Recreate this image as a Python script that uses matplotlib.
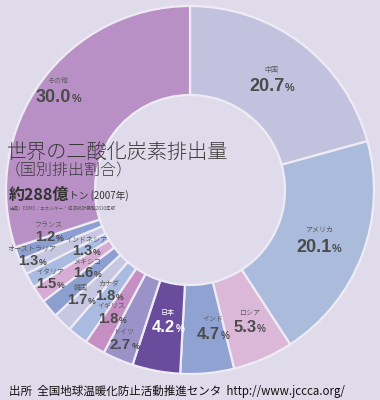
import numpy as np
import matplotlib
matplotlib.use("Agg")
import matplotlib.pyplot as plt

# データ (時計回り、上から)
countries = ["中国", "アメリカ", "ロシア", "インド", "日本", "ドイツ", "イギリス",
             "カナダ", "韓国", "メキシコ", "イタリア", "インドネシア",
             "オーストラリア", "フランス", "その他"]
shares = [20.7, 20.1, 5.3, 4.7, 4.2, 2.7, 1.8, 1.8, 1.7, 1.6, 1.5, 1.3, 1.3, 1.2, 30.0]
colors = ["#c2c2de", "#aabbdc", "#dcb8d8", "#8fa2d2", "#6a4c9c", "#9b93c8", "#c68fc3",
          "#a9bbe0", "#c7c7e1", "#8d9fd1", "#d6acd4", "#a9bbe0", "#c7c7e1", "#8d9fd1",
          "#b990c5"]
# ラベル配置 (外半径比、角度補正) と文字サイズ
label_r = [0.75, 0.75, 0.78, 0.755, 0.72, 0.885, 0.795, 0.70, 0.82, 0.70, 0.90, 0.64,
           0.93, 0.80, 0.90]
label_da = [1, 0, 1, 4, 1, -0.7, -1.2, -1.3, -2.3, -2.9, -2.1, -1.2, -2.3, -3.9, -1.3]
pct_size = [13, 13, 12, 12, 12, 11, 10.5, 10.5, 10.5, 10.5, 10.5, 10.5, 10.5, 10.5, 13]

BG = "#e0dbea"
JP = ["Noto Sans CJK JP", "DejaVu Sans"]

W, H = 380, 400
fig = plt.figure(figsize=(W / 100, H / 100), dpi=100, facecolor=BG)
ax = fig.add_axes([0, 0, 1, 1])
ax.set_facecolor(BG)

cx, cy, R = 190, 210, 184
ax.pie(shares, colors=colors, startangle=90, counterclock=False,
       center=(cx, cy), radius=R,
       wedgeprops=dict(width=R - 95, edgecolor="#eeebf4", linewidth=1.6))
ax.set_xlim(0, W)
ax.set_ylim(0, H)
ax.set_aspect("equal")
ax.axis("off")

# ラベル
total = sum(shares)
start = 90.0
for name, v, rr, da, fs in zip(countries, shares, label_r, label_da, pct_size):
    span = 360 * v / total
    mid = np.deg2rad(start - span / 2 + da)
    start -= span
    x = cx + rr * R * np.cos(mid)
    y = cy + rr * R * np.sin(mid)
    col = "white" if name == "日本" else "#4b4b4b"
    ncol = "white" if name == "日本" else "#5a5a5a"
    num = f"{v:.1f}"
    em = fs * 100 / 72
    w_num = (0.556 * (len(num) - 1) + 0.278) * em
    w_pct = 0.889 * 0.6 * em
    xr = x - (w_num + w_pct) / 2 + w_num
    d = 16 if fs >= 13 else (14 if fs >= 12 else 11)
    ax.text(x, y + d / 2 + 1, name, fontsize=5, color=ncol, family=JP,
            ha="center", va="center")
    ax.text(xr, y - d / 2, num, fontsize=fs, color=col,
            family="Liberation Sans", weight="bold", ha="right", va="center")
    ax.text(xr + 0.5, y - d / 2 - 1.5, "%", fontsize=fs * 0.6, color=col,
            family="Liberation Sans", weight="bold", ha="left", va="center")

# タイトル
ax.text(7, H - 153, "世界の二酸化炭素排出量", fontsize=14.5, color="#3a3a3a",
        family=JP, weight="light", ha="left", va="center")
ax.text(5, H - 171, "（国別排出割合）", fontsize=11.5, color="#3a3a3a",
        family=JP, weight="light", ha="left", va="center")
ax.text(9, H - 195, "約288億", fontsize=11.5, color="#333333",
        family=JP, weight="bold", ha="left", va="center")
ax.text(69, H - 196, "トン (2007年)", fontsize=7, color="#333333",
        family=JP, ha="left", va="center")
ax.text(9, H - 209, "出典）EDMC／エネルギー・経済統計要覧2010年版", fontsize=3.3,
        color="#555555", family=JP, ha="left", va="center")

# 出所
ax.text(9, H - 391, "出所  全国地球温暖化防止活動推進センタ  http://www.jccca.org/",
        fontsize=8.3, color="#111111", family=JP, ha="left", va="center")

fig.savefig("out.png", dpi=100, facecolor=BG)
